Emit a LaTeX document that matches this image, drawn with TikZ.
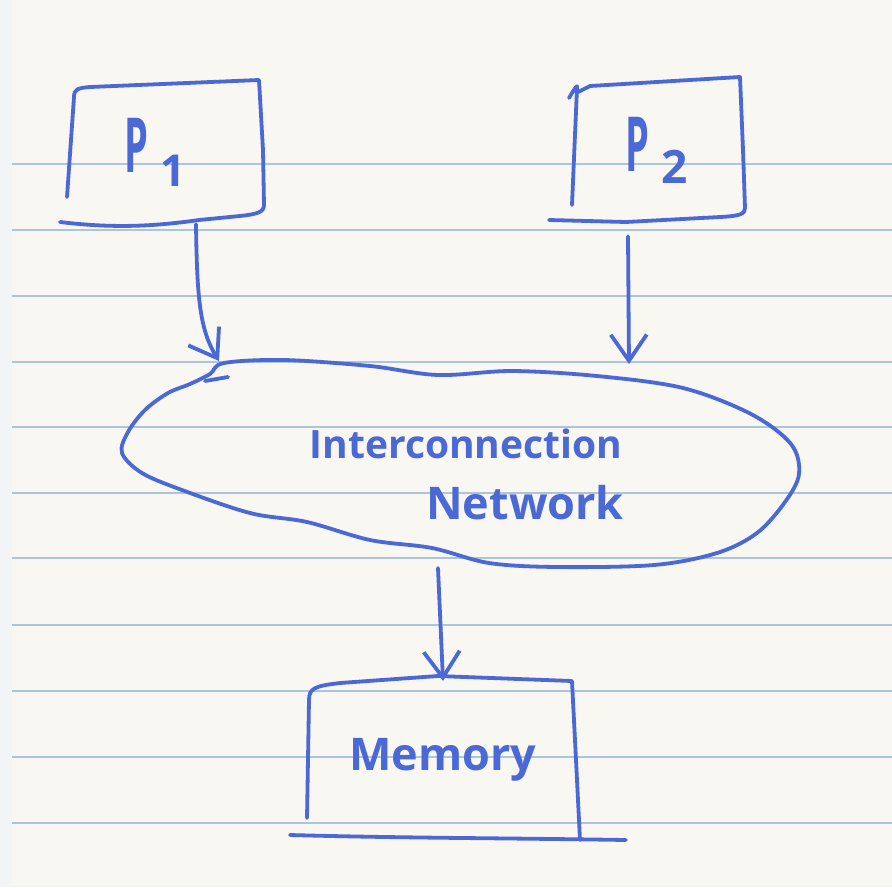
\documentclass[tikz,border=0pt]{standalone}
\usepackage{fontspec}
\setmainfont{Open Sans}
\usetikzlibrary{arrows.meta,calc}
\definecolor{paper}{RGB}{248,247,241}
\definecolor{margin}{RGB}{242,244,246}
\definecolor{rule}{RGB}{172,197,220}
\definecolor{ink}{RGB}{74,104,214}
\tikzset{
  ink/.style={draw=ink, line width=3.8pt, line cap=round, line join=round},
  arr/.style={ink, -{Straight Barb[length=26pt,width=36pt]}},
  label/.style={text=ink, inner sep=0pt, font=\bfseries},
  boxnode/.style={inner sep=0pt, text=ink, font=\bfseries},
}
\begin{document}
\begin{tikzpicture}[x=1pt,y=-1pt]
\useasboundingbox (0,0) rectangle (892,887);
% ruled notebook page
\fill[margin] (0,0) rectangle (892,887);
\fill[paper] (12,0) rectangle (892,885);
\foreach \yy in {164,230,296,362,427,493,558,625,691,757,823}
  \draw[rule, line width=1.8pt] (12,\yy) -- (892,\yy);

% processor boxes and memory (text nodes sized to the boxes)
\node[boxnode, minimum width=195pt, minimum height=140pt] (p1) at (165,152)
  {\hspace*{-20pt}\scalebox{0.5}[1]{\fontsize{76}{76}\selectfont P}\hspace{12pt}\raisebox{-14pt}{\fontsize{44}{44}\selectfont 1}};
\node[boxnode, minimum width=176pt, minimum height=140pt] (p2) at (657,150)
  {\scalebox{0.5}[1]{\fontsize{76}{76}\selectfont P}\hspace{12pt}\raisebox{-12pt}{\fontsize{46}{46}\selectfont 2}};
\node[boxnode, minimum width=270pt, minimum height=158pt] (mem) at (443,760)
  {\fontsize{45}{45}\selectfont Memory};

% hand-drawn outlines
\draw[ink] (67,197) -- (74,97) .. controls (74,89) and (78,88) .. (90,87) -- (259,80)
  -- (263,150) -- (264,205) .. controls (264,212) and (258,214) .. (240,216)
  -- (199,220) .. controls (150,227) and (110,228) .. (60,222);
\draw[ink] (572,205) -- (577,88) .. controls (578,84) and (576,86) .. (569,98);
\draw[ink] (578,92) -- (590,86) -- (740,77) -- (743,150) -- (745,208)
  .. controls (745,214) and (740,216) .. (720,217) -- (626,222) -- (549,220);
\draw[ink] (307,818) -- (309,700) .. controls (309,688) and (315,686) .. (340,683)
  -- (438,676) -- (572,681) -- (576,760) -- (580,840);
\draw[ink] (290,835) .. controls (400,838) and (500,838) .. (626,840);

% interconnection network cloud
\draw[ink] plot[smooth cycle, tension=0.55] coordinates {
  (224,363) (284,360) (370,366) (438,375) (512,371) (597,376) (683,388)
  (751,414) (791,444) (799,474) (785,502) (757,533) (717,553) (654,565)
  (557,567) (489,563) (432,548) (370,540) (307,522) (250,513) (182,490)
  (142,473) (122,453) (128,432) (145,410) (168,393) (190,384) (210,374)};
\draw[ink] (228,377) -- (205,381);
\node[label, font=\bfseries\fontsize{39}{39}\selectfont] (net) at (466,444) {Interconnection};
\node[label, font=\bfseries\fontsize{45}{45}\selectfont] (netb) at (525,503) {Network};

% arrow end points on the cloud and on the memory box
\coordinate (in1) at (219,361);
\coordinate (in2) at (629,364);
\coordinate (out) at (438,568);

% connectors
\draw[arr] ([xshift=31pt,yshift=-2pt]p1.south) .. controls (197,300) and (200,330) .. (in1);
\draw[arr] ([xshift=-29pt,yshift=-16pt]p2.south) -- (in2);
\draw[arr] (out) -- (mem.north);
\end{tikzpicture}
\end{document}
